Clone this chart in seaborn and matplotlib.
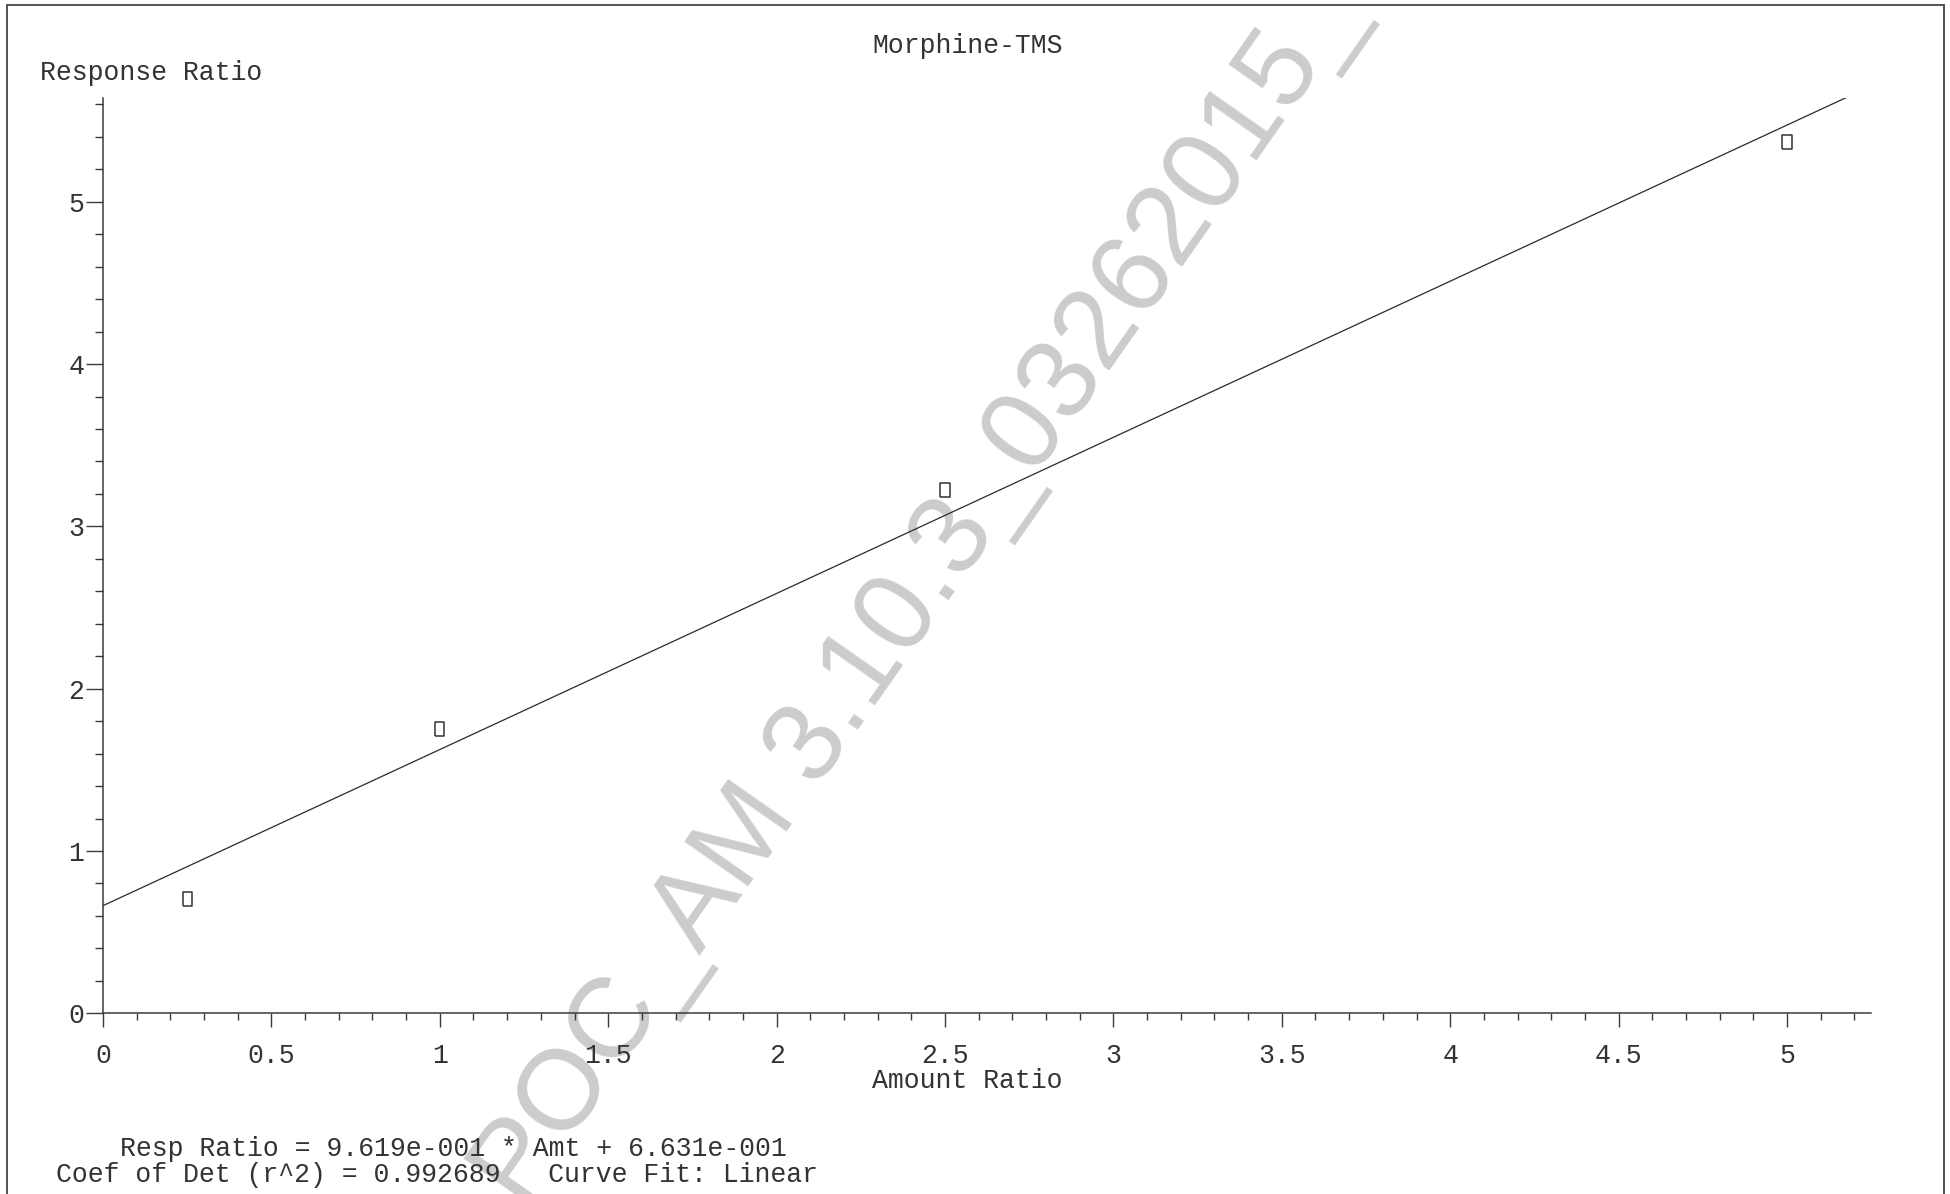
import numpy as np
import pandas as pd
import matplotlib
matplotlib.use("Agg")
import matplotlib.pyplot as plt
import seaborn as sns
from matplotlib.ticker import MultipleLocator, FuncFormatter
from matplotlib.patches import Rectangle

# ---------------- data ----------------
amount_ratio = [0.25, 1.0, 2.5, 5.0]
response_ratio = [0.706, 1.752, 3.224, 5.370]
fit_slope = 0.9619
fit_intercept = 0.6631
fit_amount_range = [0.0, 5.18]
r_squared = 0.992689
curve_fit = "Linear"
title = "Morphine-TMS"
x_label = "Amount Ratio"
y_label = "Response Ratio"
watermark = "POC_AM 3.10.3_03262015_"

# ---------------- style ----------------
sns.set_style("ticks")
plt.rcParams['font.family'] = ['Liberation Mono', 'DejaVu Sans Mono']
TXT = '#333333'
AX = '#3a3a3a'
FS = 19.1

W, H = 1950, 1194
fig = plt.figure(figsize=(W / 100, H / 100), dpi=100)
fig.patch.set_facecolor('white')

def fx(px):
    return px / W

def fy(py):
    return 1 - py / H

# axes geometry (pixels): x=0 at 103, x=5.25 at 1871 ; y=0 at 1013.3, y=5.64 at 97.9
ax = fig.add_axes([fx(103), fy(1013.3), (1871.2 - 103) / W, (1013.3 - 97.9) / H])
ax.patch.set_visible(False)

pts = pd.DataFrame({"amount": amount_ratio, "response": response_ratio})
fit_x = np.array(fit_amount_range)
fit = pd.DataFrame({"amount": fit_x, "response": fit_slope * fit_x + fit_intercept})

sns.lineplot(data=fit, x="amount", y="response", ax=ax, color='#2a2a2a',
             linewidth=0.9, zorder=3)
rect_marker = [(-0.32, -0.5), (0.32, -0.5), (0.32, 0.5), (-0.32, 0.5), (-0.32, -0.5)]
sns.scatterplot(data=pts, x="amount", y="response", ax=ax, marker=rect_marker,
                s=105, facecolor='none', edgecolor='#333333', linewidth=1.1, zorder=4)

ax.set_xlim(0, 5.25)
ax.set_ylim(0, 5.64)
ax.set_xlabel("")
ax.set_ylabel("")
for side in ['top', 'right']:
    ax.spines[side].set_visible(False)
for side in ['left', 'bottom']:
    ax.spines[side].set_color(AX)
    ax.spines[side].set_linewidth(1.1)

ax.xaxis.set_major_locator(MultipleLocator(0.5))
ax.xaxis.set_minor_locator(MultipleLocator(0.1))
ax.yaxis.set_major_locator(MultipleLocator(1))
ax.yaxis.set_minor_locator(MultipleLocator(0.2))
fmt = FuncFormatter(lambda v, p: f"{v:g}")
ax.xaxis.set_major_formatter(fmt)
ax.yaxis.set_major_formatter(fmt)

ax.tick_params(axis='x', which='major', direction='out', length=10.3, width=1.0,
               color=AX, pad=11, labelsize=FS, labelcolor=TXT)
ax.tick_params(axis='x', which='minor', direction='out', length=5.3, width=1.0, color=AX)
ax.tick_params(axis='y', which='major', direction='out', length=12, width=1.0,
               color=AX, pad=1.5, labelsize=FS, labelcolor=TXT)
ax.tick_params(axis='y', which='minor', direction='out', length=6, width=1.0, color=AX)

# ---------------- texts ----------------
fig.text(fx(967.5), fy(53), title, ha='center', va='baseline', fontsize=FS, color=TXT)
fig.text(fx(40), fy(80), y_label, ha='left', va='baseline', fontsize=FS, color=TXT)
fig.text(fx(967.5), fy(1088), x_label, ha='center', va='baseline', fontsize=FS, color=TXT)

def sci3(v):
    m, e = f"{v:.3e}".split('e')
    return f"{m}e{int(e):+04d}"

eq = f"Resp Ratio = {sci3(fit_slope)} * Amt + {sci3(fit_intercept)}"
fig.text(fx(119.5), fy(1156), eq, ha='left', va='baseline', fontsize=FS, color=TXT)
fig.text(fx(55.5), fy(1182), f"Coef of Det (r^2) = {r_squared:.6f}   Curve Fit: {curve_fit}",
         ha='left', va='baseline', fontsize=FS, color=TXT)

# watermark (behind everything)
fig.text(fx(522), fy(1210), watermark, rotation=55, rotation_mode='anchor',
         ha='left', va='baseline', fontsize=82, family=['Liberation Sans', 'DejaVu Sans'],
         color='#cccccc', zorder=-1)

# outer frame
fig.patches.append(Rectangle((fx(6.5), -0.01), (1943.5 - 6.5) / W, fy(4.5) + 0.01,
                             transform=fig.transFigure, fill=False,
                             edgecolor='#444444', linewidth=1.3, zorder=10))

fig.savefig("out.png", dpi=100)
